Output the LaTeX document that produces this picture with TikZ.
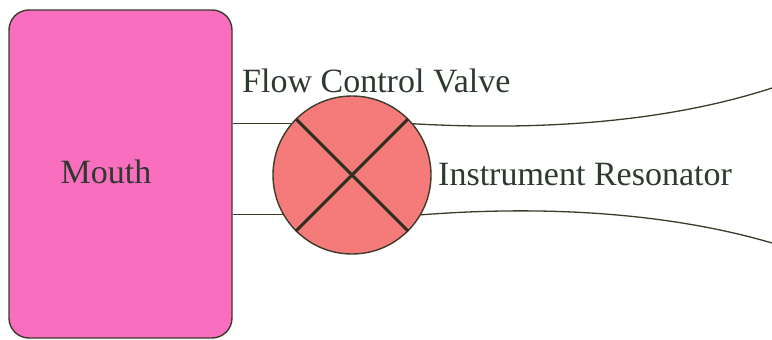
\documentclass[tikz,border=0pt]{standalone}
\usepackage{fontspec}
\setmainfont{Liberation Serif}
\newfontfamily\labelfont{Liberation Serif}
\definecolor{mouthfill}{HTML}{FA6EC0}
\definecolor{valvefill}{HTML}{F57A7A}
\definecolor{edge}{HTML}{3B3B2A}
\definecolor{txt}{HTML}{2E3A2E}
\begin{document}
\begin{tikzpicture}[x=1pt,y=-1pt,
  lbl/.style={font=\labelfont\fontsize{34}{40}\selectfont, text=txt, inner sep=0pt},
  mouthbox/.style={draw=edge, line width=1.4pt, fill=mouthfill, rounded corners=20pt,
    minimum width=223pt, minimum height=328pt, inner sep=0pt},
  valvecirc/.style={circle, draw=edge, line width=1.4pt, fill=valvefill,
    minimum size=158pt, inner sep=0pt},
  crossline/.style={draw=edge!80!black, line width=3pt},
  pipe/.style={draw=edge, line width=1.3pt}]
\useasboundingbox (0,0) rectangle (772,340);

% the two components
\node[mouthbox] (mouth) at (120.5,174) {};
\node[valvecirc] (valve) at (352,175) {};

% short pipe between mouth and valve
\draw[pipe] (mouth.east |- valve.140.7) -- (valve.140.7);
\draw[pipe] (mouth.east |- valve.210.4) -- (valve.210.4);

% valve cross
\draw[crossline] (valve.135) -- (valve.-45);
\draw[crossline] (valve.45) -- (valve.-135);

% flaring resonator walls
\coordinate (topend) at (772,88);
\coordinate (botend) at (772,243);
\draw[pipe] (valve.40) .. controls (560,132) and (680,118) .. (topend);
\draw[pipe] (valve.-30) .. controls (560,204) and (680,216) .. (botend);

% labels
\node[lbl, anchor=base] (mouthlbl) at (106,183) {Mouth};
\node[lbl, anchor=base west] (valvelbl) at (242,92) {Flow Control Valve};
\node[lbl, anchor=base west] (reslbl) at (438,185) {Instrument Resonator};
\end{tikzpicture}
\end{document}
